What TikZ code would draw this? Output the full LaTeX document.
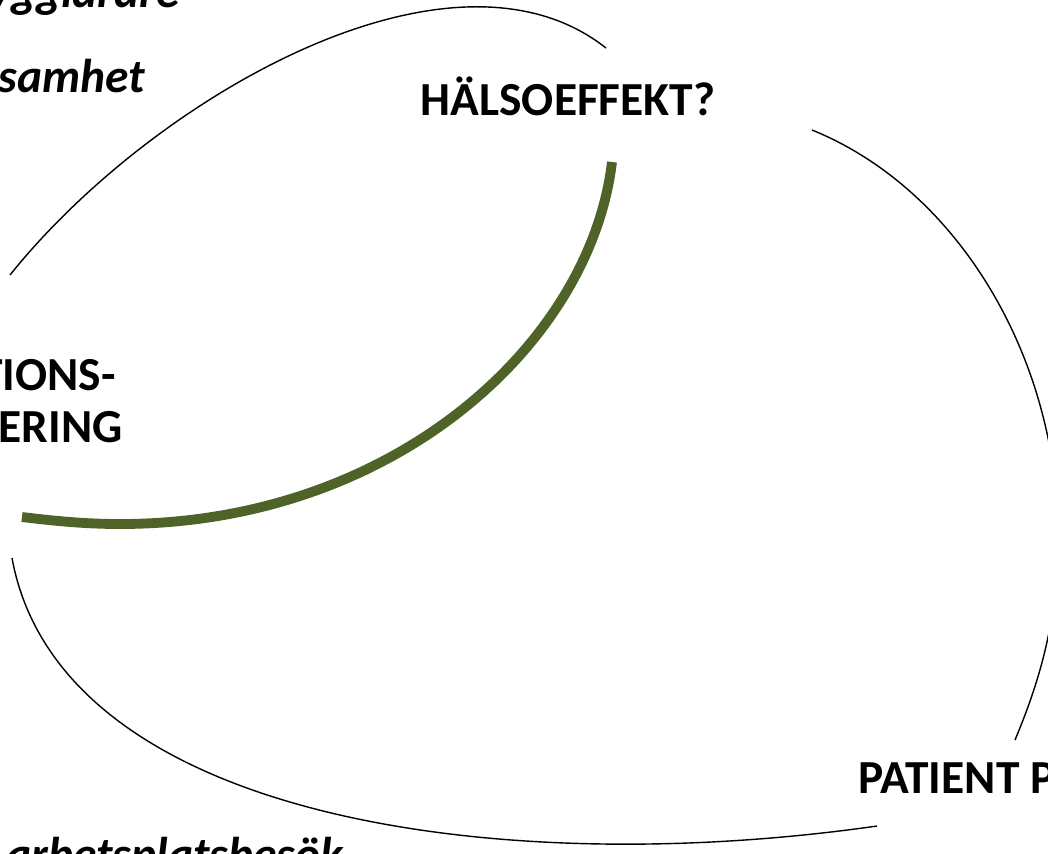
\documentclass[tikz,border=0pt]{standalone}
\usepackage{fontspec}
\setmainfont{Carlito}
\usetikzlibrary{calc}

\definecolor{olivegreen}{HTML}{4F6228}

\begin{document}
\begin{tikzpicture}[x=0.02cm, y=-0.02cm,
    label/.style={font=\fontsize{27}{32}\selectfont\bfseries, inner sep=0pt},
    note/.style={font=\fontsize{27}{32}\selectfont\bfseries\itshape, inner sep=0pt},
    thin arc/.style={line width=0.8pt},
    main arc/.style={line width=5.6pt, olivegreen}]
            \useasboundingbox (0,0) rectangle (1048,853);
            \clip (0,0) rectangle (1048,853);

            % Labels
            \node[label, anchor=base] (halsa) at (568,115) {HÄLSOEFFEKT?};
            \node[label, anchor=base east] (tions) at (116,390) {TIONS-};
            \node[label, anchor=base east] (ering) at (123,442) {ERING};
            \node[label, anchor=base west] (patient) at (858,793) {PATIENT P};
            \node[note, anchor=base west] (samhet) at (-2,92) {samhet};
            \node[note, anchor=base east] (larare) at (180,7) {ygglärare};
            \node[note, anchor=base west] (besok) at (6,870) {arbetsplatsbesök};

            % Arc ends
            \coordinate (a1) at (10,275);
            \coordinate (a2) at (606,48);
            \coordinate (b1) at (812,130);
            \coordinate (b2) at (1058,535);
            \coordinate (b3) at (1015,740);
            \coordinate (c1) at (877,826);
            \coordinate (c2) at (12,558);
            \coordinate (g1) at (22,517);
            \coordinate (g2) at (120,524);
            \coordinate (g3) at (612,162);

            % Arcs
            \draw[thin arc] (a1) .. controls (150,100) and (450,-75) .. (a2);
            \draw[thin arc] (b1) .. controls (960,190) and (1058,360) .. (b2)
                                 .. controls (1058,620) and (1040,680) .. (b3);
            \draw[thin arc] (c2) .. controls (60,820) and (500,880) .. (c1);
            \draw[main arc] (g1) .. controls (55,521) and (85,524) .. (g2)
                                 .. controls (392,524) and (590,345) .. (g3);
\end{tikzpicture}
\end{document}
